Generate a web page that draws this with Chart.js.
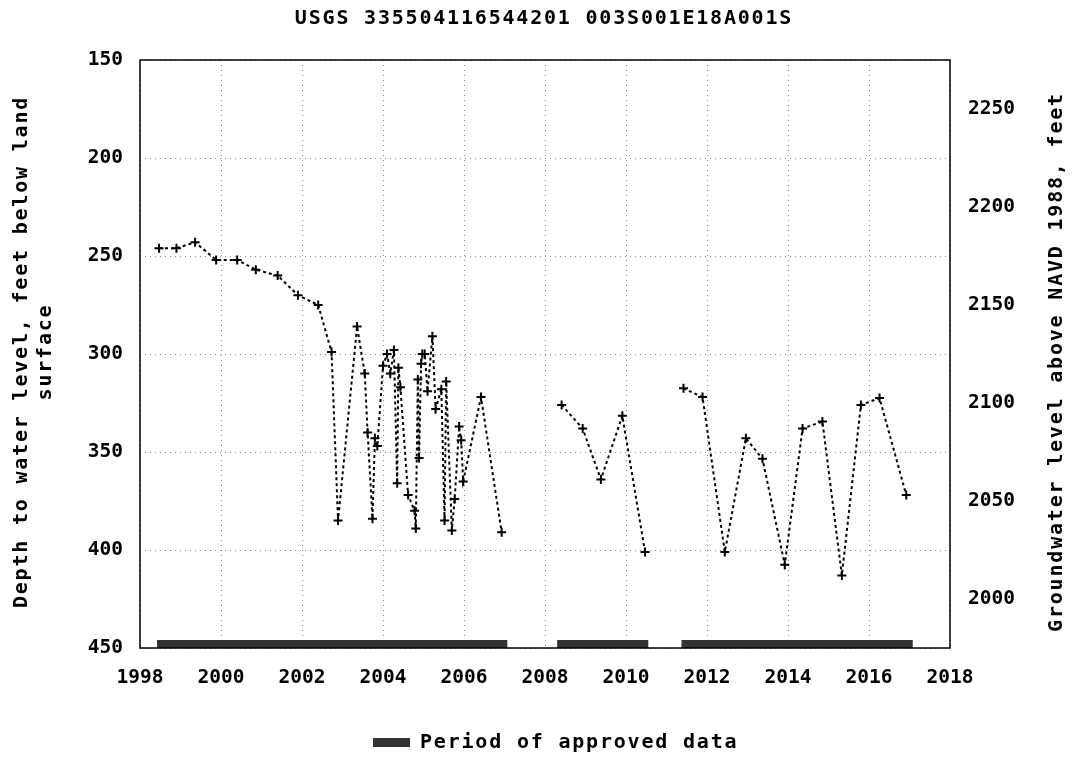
<!DOCTYPE html>
<html><head><meta charset="utf-8">
<script src="https://cdn.jsdelivr.net/npm/chart.js@4"></script>
<style>html,body{margin:0;padding:0;background:#fff}#wrap{width:1078px;height:760px;position:relative}</style>
</head><body><div id="wrap"><canvas id="c" width="1078" height="760"></canvas></div>
<script>
const chartTitle = 'USGS 335504116544201 003S001E18A001S';
const leftAxisTitle = ['Depth to water level, feet below land', 'surface'];
const rightAxisTitle = 'Groundwater level above NAVD 1988, feet';
const legendLabel = 'Period of approved data';

const xTicks = [1998, 2000, 2002, 2004, 2006, 2008, 2010, 2012, 2014, 2016, 2018];
const depthTicks = [150, 200, 250, 300, 350, 400, 450];
const elevTicks = [2000, 2050, 2100, 2150, 2200, 2250];
const landSurface = 2425;

const years1 = [1998.47, 1998.9, 1999.36, 1999.88, 2000.4, 2000.86, 2001.4, 2001.9, 2002.4, 2002.73, 2002.89, 2003.36, 2003.55, 2003.62, 2003.74, 2003.80, 2003.86, 2004.00, 2004.10, 2004.18, 2004.27, 2004.35, 2004.38, 2004.43, 2004.62, 2004.78, 2004.81, 2004.86, 2004.89, 2004.94, 2004.97, 2005.03, 2005.10, 2005.22, 2005.30, 2005.44, 2005.52, 2005.56, 2005.70, 2005.77, 2005.88, 2005.93, 2005.98, 2006.42, 2006.93];
const depths1 = [246, 246, 243, 252, 252, 257, 260, 270, 275, 299, 385, 286, 310, 340, 384, 343, 347, 306, 300, 310, 298, 366, 307, 317, 372, 380, 389, 313, 353, 305, 300, 300, 319, 291, 328, 318, 385, 314, 390, 374, 337, 344, 365, 322, 391];
const years2 = [2008.41, 2008.93, 2009.38, 2009.91, 2010.47];
const depths2 = [326, 338, 364, 331.5, 401];
const years3 = [2011.42, 2011.89, 2012.44, 2012.96, 2013.37, 2013.92, 2014.36, 2014.85, 2015.33, 2015.8, 2016.26, 2016.92];
const depths3 = [317.5, 322, 401, 343, 353.5, 407.5, 338, 334.5, 413, 326, 322.5, 372];

const approvedStart = [1998.42, 2008.30, 2011.37];
const approvedEnd = [2007.07, 2010.55, 2017.08];
const approvedDepth = 448;

function seg(xs, ys) { return xs.map((x, i) => ({x: x, y: ys[i]})); }
const levelData = [].concat(seg(years1, depths1), [{x: 2007.5, y: null}], seg(years2, depths2), [{x: 2011, y: null}], seg(years3, depths3));
const approvedData = [];
approvedStart.forEach((s, i) => {
  approvedData.push({x: s, y: approvedDepth}, {x: approvedEnd[i], y: approvedDepth});
  if (i < approvedStart.length - 1) approvedData.push({x: (approvedEnd[i] + approvedStart[i + 1]) / 2, y: null});
});

const MONO = '"DejaVu Sans Mono", "Liberation Mono", monospace';

const decor = {
  id: 'decor',
  afterDraw(chart) {
    const ctx = chart.ctx, a = chart.chartArea;
    ctx.save();
    ctx.strokeStyle = '#000';
    ctx.lineWidth = 1.5;
    ctx.strokeRect(a.left, a.top, a.right - a.left, a.bottom - a.top);
    ctx.fillStyle = '#000';
    ctx.font = 'bold 20px ' + MONO;
    if ('letterSpacing' in ctx) ctx.letterSpacing = '1.8px';
    ctx.textAlign = 'center';
    ctx.textBaseline = 'middle';
    ctx.fillText(chartTitle, 544, 19);
    ctx.save();
    ctx.translate(22, 352);
    ctx.rotate(-Math.PI / 2);
    ctx.fillText(leftAxisTitle[0], 0, 0);
    ctx.fillText(leftAxisTitle[1], 0, 24);
    ctx.restore();
    ctx.save();
    ctx.translate(1057, 362);
    ctx.rotate(-Math.PI / 2);
    ctx.fillText(rightAxisTitle, 0, 0);
    ctx.restore();
    ctx.fillStyle = '#333';
    ctx.fillRect(373, 738, 37, 9);
    ctx.fillStyle = '#000';
    ctx.textAlign = 'left';
    ctx.fillText(legendLabel, 420, 743);
    ctx.restore();
  }
};

new Chart(document.getElementById('c'), {
  type: 'line',
  data: {
    datasets: [
      {
        label: 'Depth to water level',
        data: levelData,
        yAxisID: 'y',
        borderColor: '#000',
        borderWidth: 2,
        borderDash: [3, 3],
        pointStyle: 'cross',
        pointRadius: 4.5,
        pointBorderWidth: 2,
        pointBorderColor: '#000',
        spanGaps: false,
        tension: 0
      },
      {
        label: legendLabel,
        data: approvedData,
        yAxisID: 'y',
        borderColor: '#333',
        borderWidth: 8,
        borderCapStyle: 'butt',
        pointRadius: 0,
        spanGaps: false
      }
    ]
  },
  options: {
    responsive: false,
    animation: false,
    events: [],
    layout: {padding: {top: 60, bottom: 72, left: 0, right: 0}},
    plugins: {legend: {display: false}, title: {display: false}, tooltip: {enabled: false}},
    scales: {
      x: {
        type: 'linear',
        min: 1998, max: 2018,
        afterBuildTicks: s => { s.ticks = xTicks.map(v => ({value: v})); },
        afterFit: s => { s.height = 40; },
        ticks: {color: '#000', font: {family: MONO, size: 19.5, weight: 'bold'}, padding: 18, maxRotation: 0, callback: v => String(v)},
        grid: {color: '#8a8a8a', lineWidth: 1, drawTicks: false},
        border: {display: false, dash: [1, 4]}
      },
      y: {
        position: 'left',
        reverse: true,
        min: 150, max: 450,
        afterBuildTicks: s => { s.ticks = depthTicks.map(v => ({value: v})); },
        afterFit: s => { s.width = 140; },
        ticks: {color: '#000', font: {family: MONO, size: 19.5, weight: 'bold'}, padding: 17, callback: v => String(v)},
        grid: {color: '#8a8a8a', lineWidth: 1, drawTicks: false},
        border: {display: false, dash: [1, 4]}
      },
      y2: {
        position: 'right',
        min: landSurface - 450, max: landSurface - 150,
        afterBuildTicks: s => { s.ticks = elevTicks.map(v => ({value: v})); },
        afterFit: s => { s.width = 128; },
        ticks: {color: '#000', font: {family: MONO, size: 19.5, weight: 'bold'}, padding: 18, callback: v => String(v)},
        grid: {display: false, drawTicks: false},
        border: {display: false}
      }
    }
  },
  plugins: [decor]
});
</script></body></html>
